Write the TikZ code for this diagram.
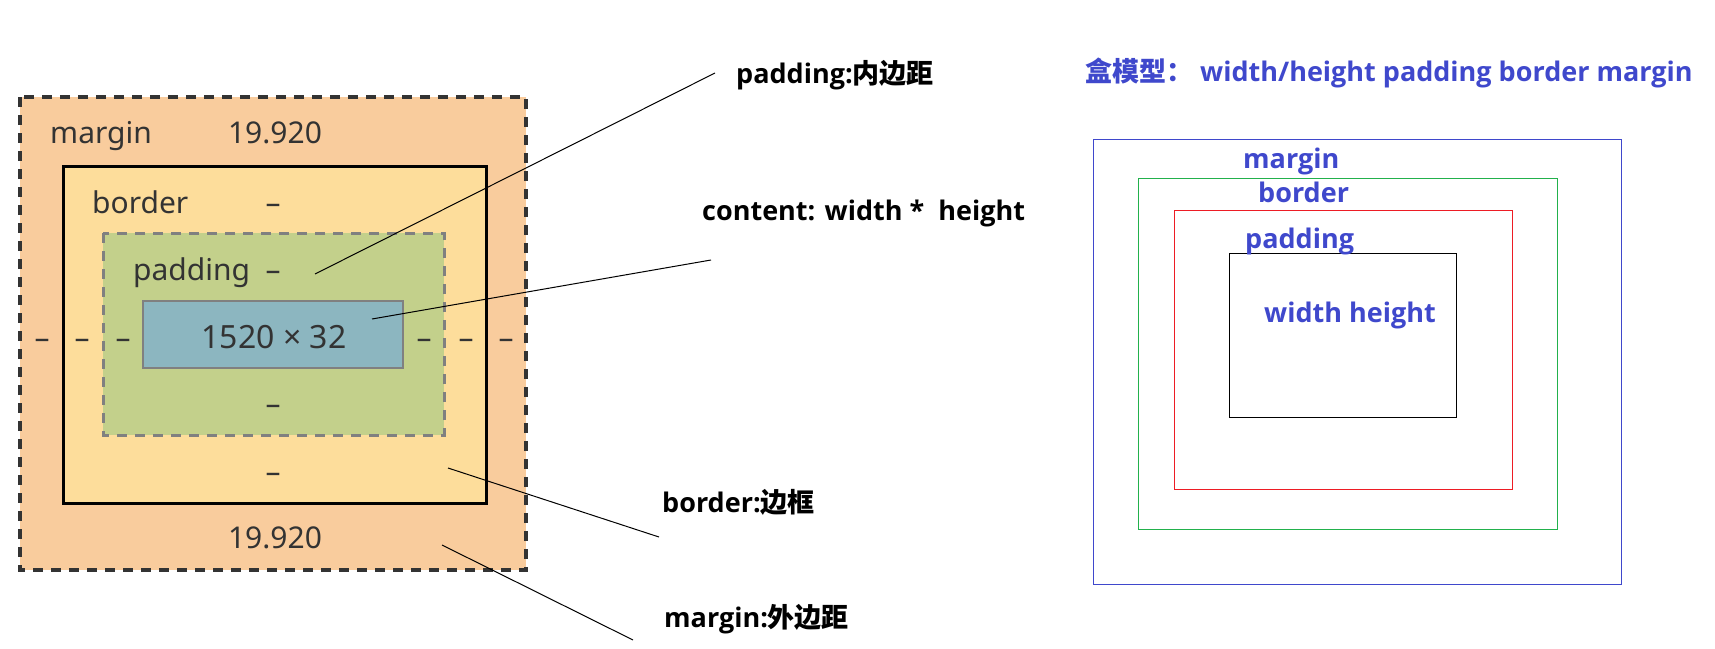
\documentclass[tikz,border=0pt]{standalone}
\usepackage{fontspec}
\setmainfont{Noto Sans}
\newfontfamily\notefont{Open Sans}
\newfontfamily\cjk{Noto Sans CJK SC}
\usepackage{xcolor}
\definecolor{marginfill}{HTML}{F9CC9D}
\definecolor{borderfill}{HTML}{FDDD9B}
\definecolor{paddingfill}{HTML}{C3D08B}
\definecolor{contentfill}{HTML}{8CB6C0}
\definecolor{boxgray}{HTML}{808080}
\definecolor{labelgray}{HTML}{333333}
\definecolor{paintblue}{HTML}{3F48CC}
\definecolor{paintgreen}{HTML}{22B14C}
\definecolor{paintred}{HTML}{ED1C24}
\tikzset{
    boxlabel/.style={font=\fontsize{30}{36}\selectfont, text=labelgray, inner sep=0pt, anchor=base},
    notelabel/.style={font=\notefont\fontsize{27}{32}\selectfont\bfseries, inner sep=0pt, anchor=base west},
    bluelabel/.style={notelabel, text=paintblue},
    pointer/.style={draw=black, line width=1pt},
}

\begin{document}
\begin{tikzpicture}[x=1pt,y=-1pt]
    \useasboundingbox (0,0) rectangle (1715,648);
    % devtools box model
    \draw[fill=marginfill, draw=labelgray, line width=3.3pt, dash pattern=on 10pt off 8pt] (20,97) rectangle (526,570);
    \draw[fill=borderfill, draw=black, line width=3pt] (63,166) rectangle (486,503);
    \draw[fill=paddingfill, draw=boxgray, line width=3pt, dash pattern=on 10pt off 8pt] (103,233) rectangle (444,435);
    \draw[fill=contentfill, draw=boxgray, line width=2.5pt] (143,301) rectangle (403,368);
    \node[boxlabel, anchor=base west] (marginname) at (50,143) {margin};
    \node[boxlabel] (margintop) at (275,143) {19.920};
    \node[boxlabel, anchor=base west] (bordername) at (92,213) {border};
    \node[boxlabel] (bordertop) at (273,213) {–};
    \node[boxlabel, anchor=base west] (paddingname) at (133,280) {padding};
    \node[boxlabel] (paddingtop) at (273,280) {–};
    \node[boxlabel, font=\fontsize{32}{38}\selectfont] (contentsize) at (274,348) {1520 × 32};
    \node[boxlabel] (marginleft) at (42,348) {–};
    \node[boxlabel] (borderleft) at (82,348) {–};
    \node[boxlabel] (paddingleft) at (123,348) {–};
    \node[boxlabel] (paddingright) at (424,348) {–};
    \node[boxlabel] (borderright) at (466,348) {–};
    \node[boxlabel] (marginright) at (506,348) {–};
    \node[boxlabel] (paddingbottom) at (273,414) {–};
    \node[boxlabel] (borderbottom) at (273,482) {–};
    \node[boxlabel] (marginbottom) at (275,548) {19.920};
    % notes
    \node[notelabel] (paddingnote) at (736,83) {padding:{\cjk 内边距}};
    \node[notelabel] (contentnote) at (702,220) {content: width *\ \ height};
    \node[notelabel] (bordernote) at (662,512) {border:{\cjk 边框}};
    \node[notelabel] (marginnote) at (664,627) {margin:{\cjk 外边距}};
    \coordinate (paddingin) at (315,274);
    \coordinate (paddingout) at (715,73);
    \coordinate (contentin) at (372,319);
    \coordinate (contentout) at (711,260);
    \coordinate (borderin) at (448,468);
    \coordinate (borderout) at (659,537);
    \coordinate (marginin) at (442,545);
    \coordinate (marginout) at (633,640);
    \draw[pointer] (paddingin) -- (paddingout);
    \draw[pointer] (contentin) -- (contentout);
    \draw[pointer] (borderin) -- (borderout);
    \draw[pointer] (marginin) -- (marginout);
    % sketch on the right
    \node[bluelabel] (title) at (1085,81) {{\cjk 盒模型：}\ width/height padding border margin};
    \draw[paintblue, line width=1pt] (1093,139) rectangle (1621,584);
    \draw[paintgreen, line width=1pt] (1138,178) rectangle (1557,529);
    \draw[paintred, line width=1pt] (1174,210) rectangle (1512,489);
    \draw[black, line width=1pt] (1229,253) rectangle (1456,417);
    \node[bluelabel] (marginword) at (1243,168) {margin};
    \node[bluelabel] (borderword) at (1258,202) {border};
    \node[bluelabel] (paddingword) at (1245,248) {padding};
    \node[bluelabel] (contentword) at (1264,322) {width height};
\end{tikzpicture}
\end{document}
